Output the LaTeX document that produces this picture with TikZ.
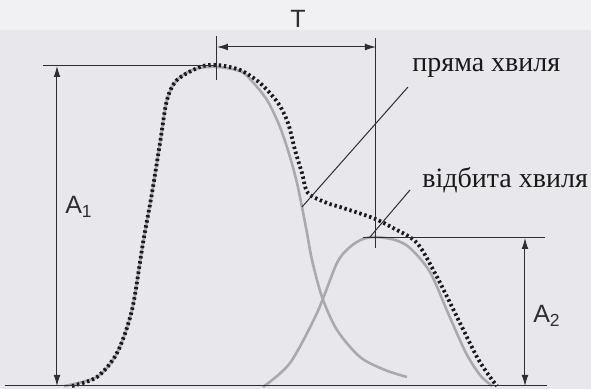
\documentclass[tikz,border=0pt]{standalone}
\usepackage{fontspec}
\setmainfont{Liberation Serif}
\setsansfont{Liberation Sans}
\usetikzlibrary{arrows.meta}
\definecolor{paper}{RGB}{231,231,236}
\definecolor{paperlight}{RGB}{241,241,244}
\definecolor{ink}{RGB}{45,45,50}
\definecolor{wavegray}{RGB}{170,170,174}
\tikzset{
  dim/.style={ink, line width=.5pt},
  dimarrow/.style={dim, {Latex[length=5.5pt,width=3.4pt]}-{Latex[length=5.5pt,width=3.4pt]}},
  component/.style={wavegray, line width=1.3pt},
  total/.style={black!90, line width=1.9pt, dash pattern=on 1.2pt off 1.4pt},
  wavelbl/.style={inner sep=0pt, text=black!90, font=\fontsize{14}{16}\selectfont},
  dimlbl/.style={text=ink, font=\sffamily\fontsize{12.5}{14}\selectfont}
}
\begin{document}
\begin{tikzpicture}[x=.5pt, y=-.5pt]
  \fill[paper] (0,0) rectangle (591,389); \fill[paperlight] (0,0) rectangle (591,30);
  \coordinate (P1) at (217,66); \coordinate (P2) at (376,238);
  \coordinate (dhit) at (302,207); \coordinate (rhit) at (370,237);
  % the two waves and their sum
  \draw[component] plot[smooth] coordinates {(64,386) (97,377) (117,353) (132,310) (143,243)
    (152,193) (160,143) (167,100) (177,80) (195,69) (217,67) (240,71) (250,79) (267,100)
    (280,127) (290,157) (297,183) (302,207) (307,233) (312,260) (322,297) (337,330)
    (360,357) (385,370) (407,377)};
  \draw[component] plot[smooth] coordinates {(263,387) (290,363) (317,313) (337,263)
    (350,247) (363,239) (376,237) (395,240) (410,248) (430,272) (448,313) (466,353)
    (480,375) (492,386)};
  \draw[total] plot[smooth] coordinates {(72,386) (97,377) (117,353) (132,310) (143,243)
    (152,193) (160,143) (167,100) (177,80) (200,67) (217,65) (240,70) (260,83) (278,103)
    (288,123) (295,150) (302,173) (308,193) (327,203) (340,207) (373,218) (393,228)
    (417,243) (437,277) (457,317) (477,357) (490,377) (497,386)};
  % dimension lines
  \draw[dim] (5,386) -- (547,386);
  \draw[dim] (43,66) -- (P1); \draw[dim] (217,36) -- (217,80);
  \draw[dim] (376,38) -- (376,248); \draw[dim] (363,238) -- (545,238);
  \draw[dimarrow] (57,66) -- (57,386);
  \draw[dimarrow] (P1 |- 0,47) -- (P2 |- 0,47);
  \draw[dimarrow] (525,238) -- (525,386);
  \foreach \n/\p/\t in {T/{298,19}/T, A1/{79,207}/A\textsubscript{1}, A2/{547,316}/A\textsubscript{2}}
    \node[dimlbl] (\n) at (\p) {\t};
  \node[wavelbl, anchor=base west] (direct) at (412,72) {пряма хвиля};
  \node[wavelbl, anchor=base west] (refl) at (422,188) {відбита хвиля};
  \draw[dim] ([shift={(-4,15)}]direct.base west) -- (dhit);
  \draw[dim] ([shift={(-12,2)}]refl.base west) -- (rhit);
\end{tikzpicture}
\end{document}
